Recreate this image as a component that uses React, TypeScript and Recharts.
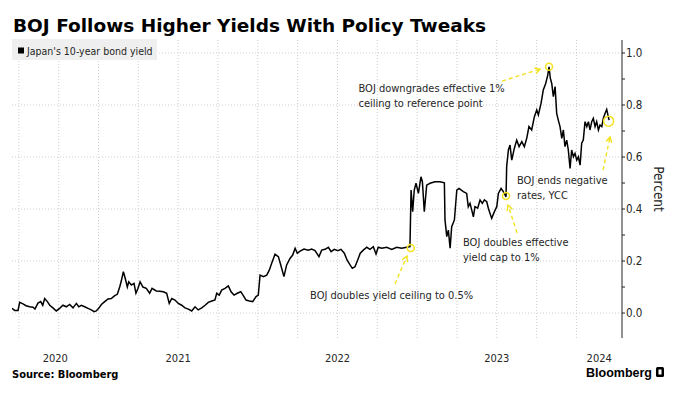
import {
  LineChart,
  Line,
  XAxis,
  YAxis,
  CartesianGrid,
  ReferenceDot,
  ReferenceLine,
} from 'recharts';

// Japan 10-year JGB yield (percent), [decimal year, yield]
const yields2020: [number, number][] = [
  [2020.457, 0.018], [2020.474, 0.01], [2020.495, 0.01], [2020.505, 0.041], [2020.526, 0.035],
  [2020.545, 0.028], [2020.568, 0.024], [2020.589, 0.022], [2020.601, 0.015], [2020.62, 0.038],
  [2020.637, 0.044], [2020.65, 0.03], [2020.662, 0.056], [2020.679, 0.044], [2020.694, 0.03],
  [2020.714, 0.02], [2020.735, 0.008], [2020.756, 0.018], [2020.777, 0.03], [2020.798, 0.024],
  [2020.819, 0.033], [2020.84, 0.02], [2020.861, 0.037], [2020.876, 0.024], [2020.892, 0.03],
  [2020.913, 0.024], [2020.934, 0.018], [2020.955, 0.012], [2020.972, 0.005], [2020.986, 0.008],
];

const yields2021: [number, number][] = [
  [2021.001, 0.018], [2021.018, 0.033], [2021.039, 0.044], [2021.06, 0.054], [2021.08, 0.056],
  [2021.102, 0.067], [2021.118, 0.072], [2021.133, 0.1], [2021.143, 0.123], [2021.156, 0.159],
  [2021.168, 0.133], [2021.181, 0.1], [2021.19, 0.12], [2021.206, 0.108], [2021.223, 0.114],
  [2021.235, 0.076], [2021.248, 0.095], [2021.261, 0.12], [2021.279, 0.1], [2021.3, 0.095],
  [2021.321, 0.076], [2021.336, 0.095], [2021.363, 0.085], [2021.384, 0.084], [2021.407, 0.082],
  [2021.428, 0.076], [2021.444, 0.037], [2021.46, 0.056], [2021.48, 0.05], [2021.501, 0.037],
  [2021.522, 0.03], [2021.543, 0.02], [2021.564, 0.015], [2021.585, 0.008], [2021.606, 0.024],
  [2021.626, 0.012], [2021.648, 0.02], [2021.669, 0.03], [2021.689, 0.041], [2021.711, 0.046],
  [2021.731, 0.05], [2021.742, 0.076], [2021.758, 0.069], [2021.773, 0.088], [2021.794, 0.095],
  [2021.815, 0.104], [2021.832, 0.082], [2021.851, 0.069], [2021.871, 0.076], [2021.893, 0.082],
  [2021.909, 0.067], [2021.926, 0.05], [2021.947, 0.046], [2021.968, 0.044], [2021.989, 0.063],
];

const yields2022: [number, number][] = [
  [2022.003, 0.069], [2022.014, 0.146], [2022.035, 0.14], [2022.056, 0.146], [2022.072, 0.165],
  [2022.087, 0.191], [2022.108, 0.226], [2022.129, 0.217], [2022.144, 0.185], [2022.164, 0.14],
  [2022.181, 0.185], [2022.202, 0.21], [2022.219, 0.223], [2022.234, 0.249], [2022.248, 0.23],
  [2022.265, 0.238], [2022.29, 0.246], [2022.317, 0.242], [2022.338, 0.246], [2022.359, 0.24],
  [2022.384, 0.217], [2022.401, 0.242], [2022.422, 0.245], [2022.443, 0.253], [2022.46, 0.236],
  [2022.48, 0.245], [2022.502, 0.24], [2022.522, 0.245], [2022.543, 0.23], [2022.56, 0.204],
  [2022.579, 0.185], [2022.593, 0.172], [2022.61, 0.178], [2022.627, 0.204], [2022.643, 0.23],
  [2022.662, 0.242], [2022.684, 0.253], [2022.704, 0.245], [2022.725, 0.255], [2022.742, 0.227],
  [2022.756, 0.253], [2022.778, 0.249], [2022.809, 0.253], [2022.841, 0.245], [2022.872, 0.253],
  [2022.903, 0.249], [2022.935, 0.253], [2022.955, 0.255], [2022.962, 0.473], [2022.972, 0.39],
  [2022.982, 0.473], [2022.993, 0.499],
];

const yields2023: [number, number][] = [
  [2023.008, 0.46], [2023.024, 0.524], [2023.033, 0.505], [2023.045, 0.39], [2023.06, 0.492],
  [2023.081, 0.499], [2023.112, 0.505], [2023.144, 0.505], [2023.171, 0.501], [2023.175, 0.358],
  [2023.186, 0.294], [2023.196, 0.319], [2023.207, 0.249], [2023.217, 0.332], [2023.234, 0.358],
  [2023.249, 0.473], [2023.263, 0.479], [2023.29, 0.467], [2023.311, 0.46], [2023.321, 0.409],
  [2023.332, 0.422], [2023.343, 0.396], [2023.353, 0.37], [2023.363, 0.409], [2023.38, 0.403],
  [2023.395, 0.435], [2023.409, 0.422], [2023.422, 0.435], [2023.437, 0.428], [2023.447, 0.403],
  [2023.468, 0.364], [2023.485, 0.39], [2023.5, 0.409], [2023.51, 0.46], [2023.527, 0.479],
  [2023.541, 0.467], [2023.552, 0.454], [2023.558, 0.447], [2023.562, 0.563], [2023.573, 0.627],
  [2023.583, 0.646], [2023.594, 0.588], [2023.61, 0.633], [2023.625, 0.665], [2023.64, 0.64],
  [2023.657, 0.659], [2023.673, 0.64], [2023.688, 0.672], [2023.702, 0.717], [2023.719, 0.704],
  [2023.736, 0.755], [2023.751, 0.781], [2023.761, 0.762], [2023.778, 0.807], [2023.792, 0.858],
  [2023.807, 0.883], [2023.82, 0.915], [2023.828, 0.947], [2023.836, 0.903], [2023.845, 0.883],
  [2023.855, 0.832], [2023.866, 0.871], [2023.876, 0.768], [2023.886, 0.742], [2023.897, 0.717],
  [2023.908, 0.672], [2023.918, 0.704], [2023.928, 0.64], [2023.939, 0.665], [2023.949, 0.627],
  [2023.96, 0.556], [2023.97, 0.627], [2023.981, 0.601], [2023.991, 0.614],
];

const yields2024: [number, number][] = [
  [2024.002, 0.588], [2024.012, 0.601], [2024.023, 0.569], [2024.033, 0.653], [2024.043, 0.665],
  [2024.054, 0.736], [2024.065, 0.717], [2024.075, 0.736], [2024.085, 0.704], [2024.096, 0.736],
  [2024.106, 0.749], [2024.117, 0.717], [2024.127, 0.736], [2024.138, 0.704], [2024.148, 0.723],
  [2024.159, 0.717], [2024.169, 0.749], [2024.18, 0.768], [2024.19, 0.783], [2024.2, 0.755],
  [2024.205, 0.742],
];

const years = [2020, 2021, 2022, 2023, 2024];
const quarterLines = [
  2020.5, 2020.75, 2021, 2021.25, 2021.5, 2021.75, 2022, 2022.25, 2022.5, 2022.75,
  2023, 2023.25, 2023.5, 2023.75, 2024,
];
const yTicks = [0, 0.1, 0.2, 0.3, 0.4, 0.5, 0.6, 0.7, 0.8, 0.9, 1.0];
const yGrid = [0, 0.2, 0.4, 0.6, 0.8, 1.0];

// policy events: circle on the line, arrow (tail -> head), text anchor
const events = [
  {
    at: [2022.96, 0.25], r: 3.5,
    tail: [2022.861, 0.112], head: [2022.936, 0.219],
    label: [2022.328, 0.054], lines: ['BOJ doubles yield ceiling to 0.5%'],
  },
  {
    at: [2023.558, 0.45], r: 3.5,
    tail: [2023.627, 0.308], head: [2023.571, 0.415],
    label: [2023.288, 0.258], lines: ['BOJ doubles effective', 'yield cap to 1%'],
  },
  {
    at: [2023.828, 0.947], r: 3.5,
    tail: [2023.533, 0.892], head: [2023.772, 0.938],
    label: [2022.632, 0.85], lines: ['BOJ downgrades effective 1%', 'ceiling to reference point'],
  },
  {
    at: [2024.202, 0.738], r: 5,
    tail: [2024.167, 0.55], head: [2024.211, 0.677],
    label: [2023.627, 0.496], lines: ['BOJ ends negative', 'rates, YCC'],
  },
];

const X_DOMAIN: [number, number] = [2020.457, 2024.286];
const Y_DOMAIN: [number, number] = [-0.096, 1.05];

const data = [...yields2020, ...yields2021, ...yields2022, ...yields2023, ...yields2024].map(
  ([t, v]) => ({ t, v }),
);

// year labels sit in the middle of the visible part of each year
const yearTicks = years.map(
  (y) => (Math.max(y, X_DOMAIN[0]) + Math.min(y + 1, X_DOMAIN[1])) / 2,
);

const COND = "'DejaVu Sans Condensed', 'DejaVu Sans', sans-serif";
const YELLOW = '#f3e21f';
const TEXT = '#262626';

function YearTick({ x, y, payload }: any) {
  return (
    <text x={x} y={y + 24} textAnchor="middle" fontFamily={COND} fontSize={11} fill={TEXT}>
      {Math.floor(payload.value)}
    </text>
  );
}

function PercentTick({ x, y, payload }: any) {
  const v = payload.value as number;
  if (Math.round(v * 10) % 2 !== 0) return <g />;
  return (
    <text x={x} y={y} dy="0.36em" textAnchor="start" fontFamily={COND} fontSize={11.5} fill={TEXT}>
      {v.toFixed(1)}
    </text>
  );
}

function Arrow(props: any) {
  const { x1, y1, x2, y2 } = props;
  if ([x1, y1, x2, y2].some((n) => typeof n !== 'number')) return <g />;
  const ang = Math.atan2(y2 - y1, x2 - x1);
  const h = 6;
  const a1 = ang + Math.PI - 0.5;
  const a2 = ang + Math.PI + 0.5;
  return (
    <g stroke={YELLOW} strokeWidth={1.4} fill="none">
      <line x1={x1} y1={y1} x2={x2} y2={y2} strokeDasharray="4 3" />
      <polyline
        points={`${x2 + h * Math.cos(a1)},${y2 + h * Math.sin(a1)} ${x2},${y2} ${x2 + h * Math.cos(a2)},${y2 + h * Math.sin(a2)}`}
      />
    </g>
  );
}

function noteShape(lines: string[]) {
  return ({ cx, cy }: any) => (
    <text x={cx} y={cy} fontFamily={COND} fontSize={11} fill={TEXT}>
      {lines.map((l, i) => (
        <tspan key={i} x={cx} dy={i === 0 ? 0 : 15}>
          {l}
        </tspan>
      ))}
    </text>
  );
}

export default function App() {
  return (
    <div
      style={{
        position: 'absolute',
        left: 0,
        top: 0,
        width: 677,
        height: 395,
        background: '#fff',
        overflow: 'hidden',
      }}
    >
      <LineChart
        width={677}
        height={395}
        data={data}
        margin={{ top: 40, right: 10, left: 12, bottom: 27 }}
      >
        <CartesianGrid
          stroke="#cfcfcf"
          strokeDasharray="1 2"
          horizontalValues={yGrid}
          verticalValues={quarterLines}
        />
        <XAxis
          dataKey="t"
          type="number"
          domain={X_DOMAIN}
          allowDataOverflow
          ticks={yearTicks}
          tick={<YearTick />}
          tickLine={false}
          axisLine={false}
          tickSize={0}
          tickMargin={0}
          height={30}
          interval={0}
        />
        <YAxis
          orientation="right"
          type="number"
          domain={Y_DOMAIN}
          allowDataOverflow
          ticks={yTicks}
          tick={<PercentTick />}
          tickSize={3}
          tickMargin={1}
          tickLine={{ stroke: '#222' }}
          axisLine={{ stroke: '#222' }}
          width={45}
          interval={0}
        />
        <Line
          type="linear"
          dataKey="v"
          stroke="#000"
          strokeWidth={1.5}
          dot={false}
          isAnimationActive={false}
        />
        {events.map((e, i) => (
          <ReferenceLine
            key={`a${i}`}
            segment={[
              { x: e.tail[0], y: e.tail[1] },
              { x: e.head[0], y: e.head[1] },
            ]}
            ifOverflow="visible"
            shape={<Arrow />}
          />
        ))}
        {events.map((e, i) => (
          <ReferenceDot
            key={`c${i}`}
            x={e.at[0]}
            y={e.at[1]}
            r={e.r}
            fill="none"
            stroke={YELLOW}
            strokeWidth={1.5}
            ifOverflow="visible"
          />
        ))}
        {events.map((e, i) => (
          <ReferenceDot
            key={`t${i}`}
            x={e.label[0]}
            y={e.label[1]}
            r={0}
            ifOverflow="visible"
            shape={noteShape(e.lines)}
          />
        ))}
      </LineChart>

      <svg
        width={677}
        height={395}
        style={{ position: 'absolute', left: 0, top: 0, pointerEvents: 'none' }}
      >
        <text
          x={13}
          y={32}
          fontFamily="'DejaVu Sans', sans-serif"
          fontWeight="bold"
          fontSize={18.5}
          fill="#000"
        >
          BOJ Follows Higher Yields With Policy Tweaks
        </text>
        <rect x={12} y={39} width={145} height={21} fill="#efefef" />
        <rect x={18} y={47.5} width={6} height={6} fill="#000" />
        <text x={27} y={54.5} fontFamily={COND} fontSize={10.5} fill={TEXT}>
          Japan's 10-year bond yield
        </text>
        <text
          x={659}
          y={189}
          transform="rotate(90 659 189)"
          textAnchor="middle"
          dominantBaseline="central"
          fontFamily={COND}
          fontSize={13.5}
          fill={TEXT}
        >
          Percent
        </text>
        <text x={12} y={378} fontFamily={COND} fontWeight="bold" fontSize={11} fill="#000">
          Source: Bloomberg
        </text>
        <text
          x={586}
          y={377}
          fontFamily="'Liberation Sans', Arial, sans-serif"
          fontWeight="bold"
          fontSize={12.5}
          fill="#000"
        >
          Bloomberg
        </text>
        <rect x={656} y={367} width={8} height={10} rx={1.5} fill="#000" />
        <rect x={658.5} y={369.5} width={3} height={5} fill="#fff" />
      </svg>
    </div>
  );
}
